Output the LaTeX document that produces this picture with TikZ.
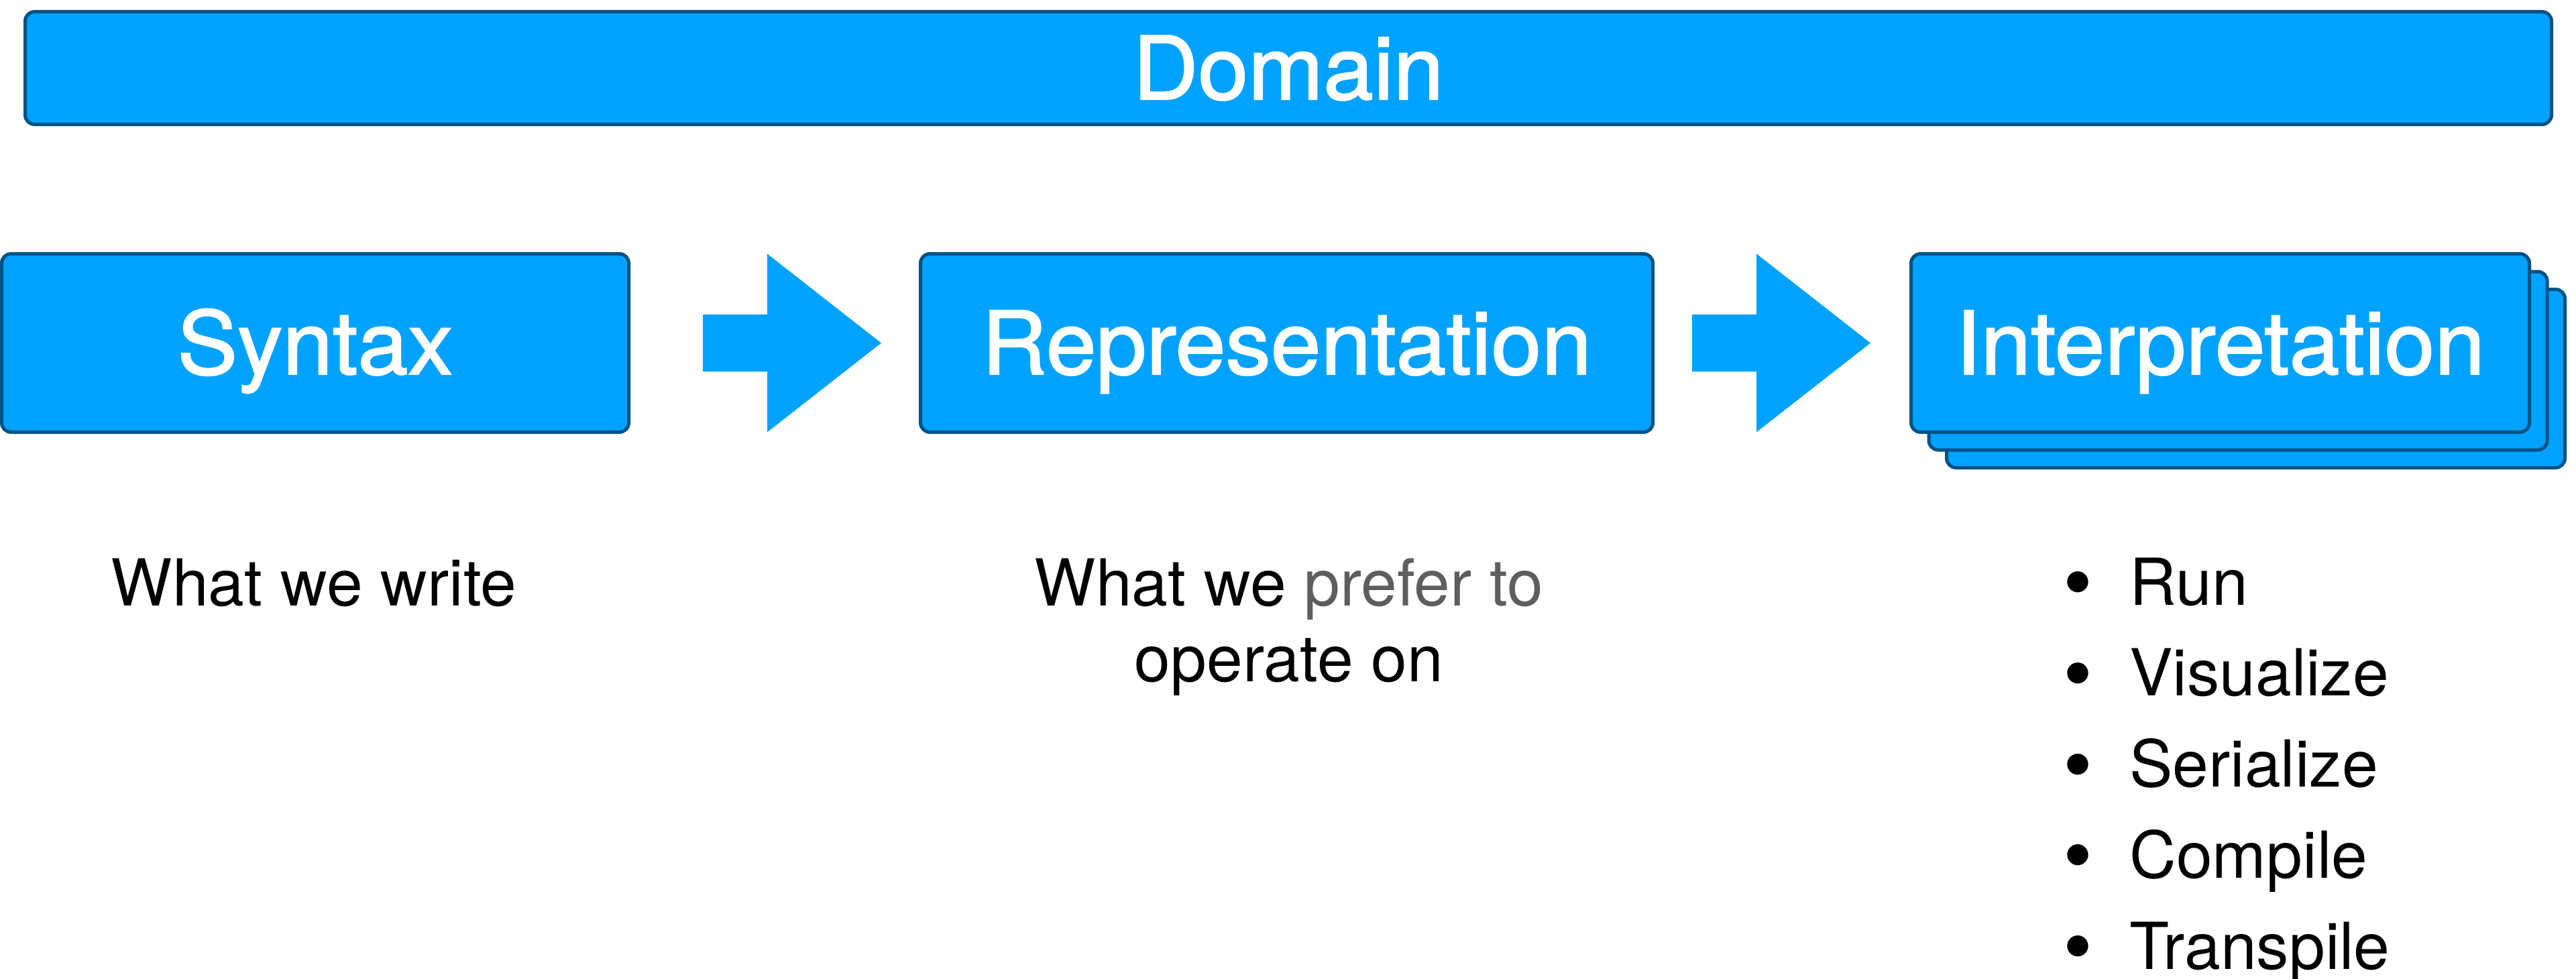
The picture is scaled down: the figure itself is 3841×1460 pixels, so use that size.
\documentclass[tikz,border=0pt]{standalone}
\usepackage{graphicx}
\usepackage{fontspec}
\setmainfont{TeX Gyre Heros}
\newfontfamily\boxfamily{TeX Gyre Heros}[FakeBold=1.6, FakeStretch=1.03]
\usetikzlibrary{calc}
\definecolor{boxfill}{HTML}{00A2FF}
\definecolor{boxline}{HTML}{005283}
\definecolor{softgray}{HTML}{5E5E5E}
\newcommand{\pixel}{0.02cm}
\newcommand{\bigbullet}{\raisebox{-0.1em}{\scalebox{1.3}{\textbullet}}}
\tikzset{
  box/.style={draw=boxline, fill=boxfill, line width=5*\pixel,
    rounded corners=14*\pixel, text=white, inner sep=0pt,
    font=\boxfamily\fontsize{74.3pt}{89pt}\selectfont,
    text height=93*\pixel, text depth=0pt},
  body/.style={inner sep=0pt, text=black,
    font=\fontsize{55pt}{66pt}\selectfont},
  blockarrow/.pic={
    \fill[boxfill] (0,-42.5) -- (96,-42.5) -- (96,-133) -- (266,0)
      -- (96,133) -- (96,42.5) -- (0,42.5) -- cycle;}
}
\begin{document}
\begin{tikzpicture}[x=0.02cm, y=-0.02cm]
\useasboundingbox (0,0) rectangle (3841,1460);

% Domain banner
\node[box, minimum width=3767*\pixel, minimum height=168*\pixel]
  (domain) at (1921,101.5) {Domain};

% Main boxes
\node[box, minimum width=935*\pixel, minimum height=266*\pixel]
  (syntax) at (470,511.5) {Syntax};
\node[box, minimum width=1092*\pixel, minimum height=266*\pixel]
  (rep) at (1918.5,511.5) {Representation};

% Interpretation stack
\node[box, minimum width=922*\pixel, minimum height=266*\pixel]
  (interp3) at (3363.5,564.5) {};
\node[box, minimum width=922*\pixel, minimum height=266*\pixel]
  (interp2) at (3337,538) {};
\node[box, minimum width=922*\pixel, minimum height=266*\pixel]
  (interp) at (3310.5,511.5) {Interpretation};

% Block arrows
\pic (arrowone) at ($(syntax.east)+(108,0)$) {blockarrow};
\pic (arrowtwo) at ($(rep.east)+(56,0)$) {blockarrow};

% Descriptions
\node[body, anchor=base] (syntaxdesc) at (468,903) {What we write};
\node[body, anchor=base] (repdescone) at (1922,903)
  {What we \textcolor{softgray}{prefer to}};
\node[body, anchor=base] (repdesctwo) at (1922,1016) {operate on};

% Bullet list
\foreach \t [count=\i] in {Run,Visualize,Serialize,Compile,Transpile}{
  \node[body, anchor=base] (bullet\i) at (3098,{902+135.75*(\i-1)}) {\bigbullet};
  \node[body, anchor=base west] (item\i) at (3175,{902+135.75*(\i-1)}) {\t};
}
\end{tikzpicture}
\end{document}
